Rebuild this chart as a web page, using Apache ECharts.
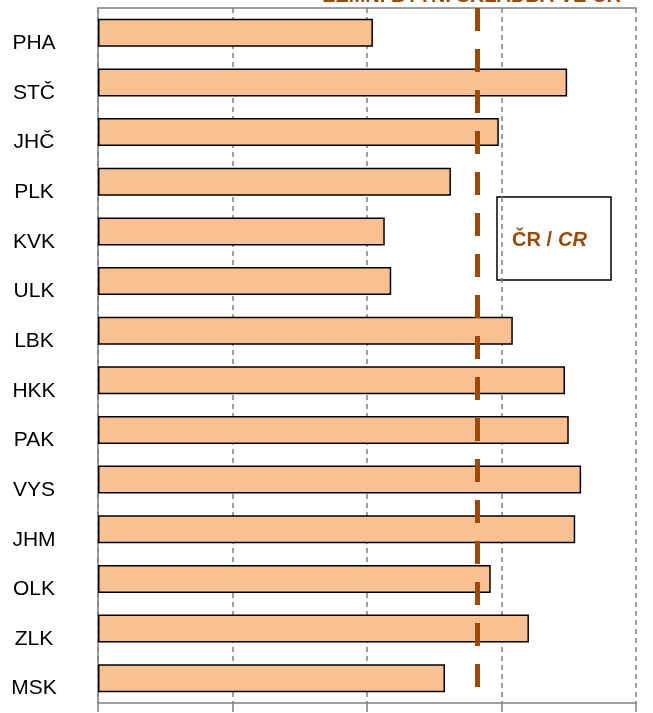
<!DOCTYPE html>
<html><head><meta charset="utf-8">
<script src="https://cdn.jsdelivr.net/npm/echarts@6/dist/echarts.min.js"></script>
<style>html,body{margin:0;padding:0;background:#fff;}#c{width:653px;height:713px;}</style>
</head><body><div id="c"></div>
<script>
const categories = ["PHA","STČ","JHČ","PLK","KVK","ULK","LBK","HKK","PAK","VYS","JHM","OLK","ZLK","MSK"];
const values = [51.1,87.2,74.5,65.6,53.3,54.5,77.1,86.8,87.5,89.8,88.7,73.0,80.1,64.5];
const crValue = 70.4;
const legendText = "ČR / ";
const legendItalic = "CR";
const topTitle = "ZEMNÍ BYTNÍ SKLADBA VE ČR";

const chart = echarts.init(document.getElementById('c'), null, {renderer:'canvas'});
const brown = '#9C4A0C';
chart.setOption({
  animation:false,
  grid:{left:98, right:17, top:8, bottom:10},
  xAxis:[{
    type:'value', min:0, max:100, interval:25,
    axisLine:{show:true, lineStyle:{color:'#808080', width:1.5}},
    axisTick:{show:true, length:9, lineStyle:{color:'#808080', width:1.5}},
    axisLabel:{show:false},
    splitLine:{show:true, lineStyle:{color:'#808080', width:1.5, type:[5,4]}}
  },{
    type:'value', min:0, max:100, position:'top',
    axisLine:{show:true, lineStyle:{color:'#808080', width:1.5}},
    axisTick:{show:false}, axisLabel:{show:false}, splitLine:{show:false}
  }],
  yAxis:{
    type:'category', data:categories, inverse:true,
    axisLine:{show:true, lineStyle:{color:'#808080', width:1.5}},
    axisTick:{show:false},
    axisLabel:{color:'#000', fontSize:21, fontFamily:'Liberation Sans, Arial, sans-serif', align:'center', verticalAlign:'top', margin:64}
  },
  series:[{
    type:'bar', data:values, barWidth:28,
    itemStyle:{color:'#F9C191', borderColor:'#000', borderWidth:1.5},
    markLine:{
      silent:true, symbol:['none','none'], label:{show:false},
      lineStyle:{color:brown, width:5, type:[23,18]},
      data:[{xAxis:crValue}]
    }
  }],
  graphic:[
    {type:'rect', shape:{x:497, y:197, width:114, height:83}, style:{fill:'#fff', stroke:'#000', lineWidth:1.5}},
    {type:'text', x:512, y:240, style:{text:legendText, fill:brown, font:'bold 20px Liberation Sans, Arial, sans-serif', verticalAlign:'middle'}},
    {type:'text', x:558, y:240, style:{text:legendItalic, fill:brown, font:'italic bold 20px Liberation Sans, Arial, sans-serif', verticalAlign:'middle'}},
    {type:'text', x:472, y:6, style:{text:topTitle, fill:brown, font:'bold 20px Liberation Sans, Arial, sans-serif', align:'center', verticalAlign:'bottom'}}
  ]
});
</script></body></html>
